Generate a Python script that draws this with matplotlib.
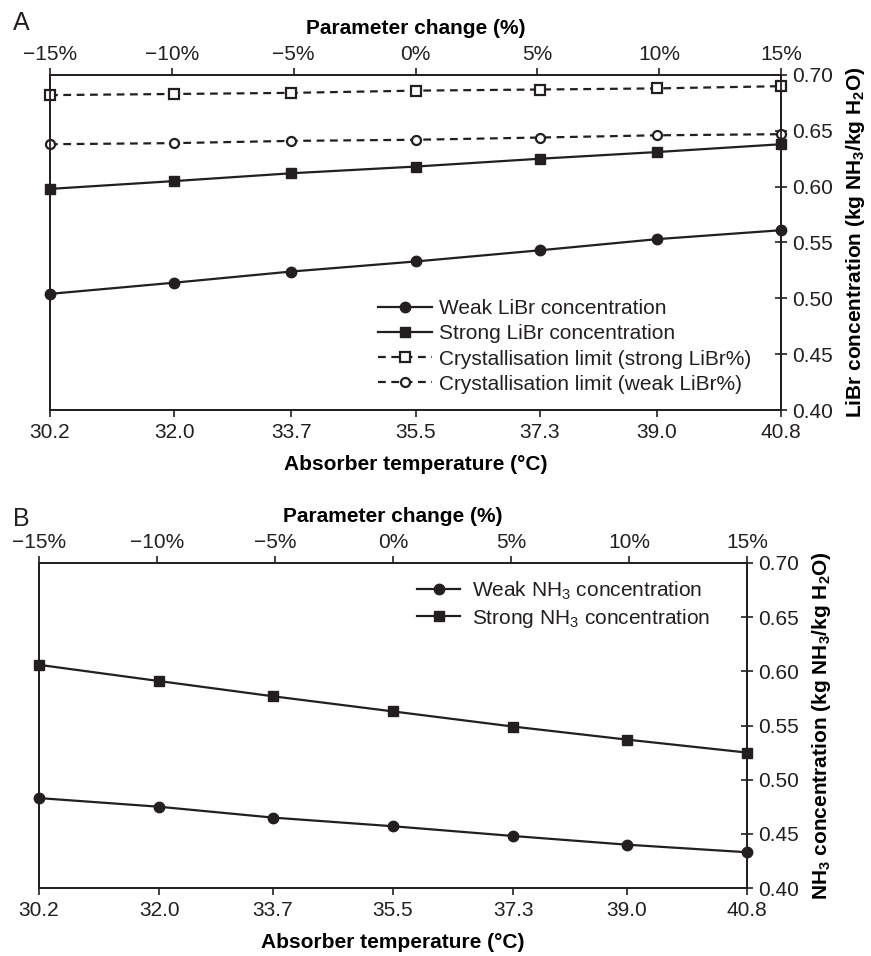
import numpy as np
import matplotlib.pyplot as plt

# ---  DATA  --- #
temperature = [30.2, 32.0, 33.7, 35.5, 37.3, 39.0, 40.8]
temp_labels = ['30.2', '32.0', '33.7', '35.5', '37.3', '39.0', '40.8']
param_change = [-15, -10, -5, 0, 5, 10, 15]
param_labels = ['\u221215%', '\u221210%', '\u22125%', '0%', '5%', '10%', '15%']

# Panel A (LiBr)
weak_libr = [0.504, 0.514, 0.524, 0.533, 0.543, 0.553, 0.561]
strong_libr = [0.598, 0.605, 0.612, 0.618, 0.625, 0.631, 0.638]
cryst_strong = [0.682, 0.683, 0.684, 0.686, 0.687, 0.688, 0.690]
cryst_weak = [0.638, 0.639, 0.641, 0.642, 0.644, 0.646, 0.647]

# Panel B (NH3)
weak_nh3 = [0.483, 0.475, 0.465, 0.457, 0.448, 0.440, 0.433]
strong_nh3 = [0.606, 0.591, 0.577, 0.563, 0.549, 0.537, 0.525]

y_ticks = [0.40, 0.45, 0.50, 0.55, 0.60, 0.65, 0.70]

# ---  STYLE  --- #
INK = '#231f20'
plt.rcParams['font.family'] = ['Liberation Sans', 'DejaVu Sans']
plt.rcParams['mathtext.fontset'] = 'custom'
plt.rcParams['mathtext.rm'] = 'Liberation Sans'
plt.rcParams['mathtext.it'] = 'Liberation Sans:italic'
plt.rcParams['mathtext.bf'] = 'Liberation Sans:bold'
plt.rcParams['text.color'] = INK
FS = 15


def format_axes(ax, ylabel):
    # Axis ranges
    ax.set_xlim(temperature[0], temperature[-1])
    ax.set_ylim(0.40, 0.70)
    # Spines
    for s in ax.spines.values():
        s.set_color(INK)
        s.set_linewidth(1.3)
    # Bottom axis
    ax.set_xticks(temperature)
    ax.set_xticklabels(temp_labels)
    ax.tick_params(axis='x', direction='out', length=5, width=1.2,
                   color=INK, labelcolor=INK, labelsize=FS, pad=4)
    ax.set_xlabel('Absorber temperature (\u00b0C)', fontsize=FS,
                  fontweight='bold', labelpad=10)
    # Right axis
    ax.yaxis.tick_right()
    ax.yaxis.set_label_position('right')
    ax.set_yticks(y_ticks)
    ax.set_yticklabels([f'{v:.2f}' for v in y_ticks])
    ax.tick_params(axis='y', direction='inout', length=8, width=1.2,
                   color=INK, labelcolor=INK, labelsize=FS, pad=4)
    ax.set_ylabel(ylabel, fontsize=FS, fontweight='bold', labelpad=8)
    # Top axis
    top = ax.twiny()
    top.set_xlim(param_change[0], param_change[-1])
    top.set_xticks(param_change)
    top.set_xticklabels(param_labels)
    top.tick_params(axis='x', direction='out', length=5, width=1.2,
                    color=INK, labelcolor=INK, labelsize=FS, pad=3)
    top.set_xlabel('Parameter change (%)', fontsize=FS, fontweight='bold',
                   labelpad=8)
    for s in top.spines.values():
        s.set_color(INK)
        s.set_linewidth(1.3)
    return top


fig = plt.figure(figsize=(8.71, 9.56), dpi=100)

# ---  PANEL A  --- #
axA = fig.add_axes([50/871, 1-410/956, 731/871, 335/956])
axA.plot(temperature, weak_libr, color=INK, lw=1.6, marker='o', ms=7.5,
         mfc=INK, mec=INK, label='Weak LiBr concentration', clip_on=False,
         zorder=3)
axA.plot(temperature, strong_libr, color=INK, lw=1.6, marker='s', ms=7,
         mfc=INK, mec=INK, label='Strong LiBr concentration', clip_on=False,
         zorder=3)
axA.plot(temperature, cryst_strong, color=INK, lw=1.6, ls=(0, (3.5, 2.5)),
         marker='s', ms=6.5, mfc='white', mec=INK, mew=1.6,
         label='Crystallisation limit (strong LiBr%)', clip_on=False, zorder=3)
axA.plot(temperature, cryst_weak, color=INK, lw=1.6, ls=(0, (3.5, 2.5)),
         marker='o', ms=6.5, mfc='white', mec=INK, mew=1.6,
         label='Crystallisation limit (weak LiBr%)', clip_on=False, zorder=3)
format_axes(axA, 'LiBr concentration (kg NH$_\\mathbf{3}$/kg H$_\\mathbf{2}$O)')
axA.legend(loc='upper left', bbox_to_anchor=(0.449, 0.33), frameon=False,
           fontsize=FS, handlelength=2.6, handletextpad=0.33,
           labelspacing=0.29, borderpad=0, borderaxespad=0)
fig.text(13/871, 1-23/956, 'A', fontsize=18, va='center', ha='left')

# ---  PANEL B  --- #
axB = fig.add_axes([39/871, 1-888/956, 708/871, 325/956])
axB.plot(temperature, weak_nh3, color=INK, lw=1.6, marker='o', ms=7.5,
         mfc=INK, mec=INK, label='Weak NH$_3$ concentration', clip_on=False,
         zorder=3)
axB.plot(temperature, strong_nh3, color=INK, lw=1.6, marker='s', ms=7,
         mfc=INK, mec=INK, label='Strong NH$_3$ concentration', clip_on=False,
         zorder=3)
format_axes(axB, 'NH$_\\mathbf{3}$ concentration (kg NH$_\\mathbf{3}$/kg H$_\\mathbf{2}$O)')
axB.legend(loc='upper left', bbox_to_anchor=(0.534, 0.95), frameon=False,
           fontsize=FS, handlelength=2.07, handletextpad=0.58,
           labelspacing=0.24, borderpad=0, borderaxespad=0)
fig.text(13/871, 1-519/956, 'B', fontsize=18, va='center', ha='left')

plt.savefig('out.png', dpi=100)
